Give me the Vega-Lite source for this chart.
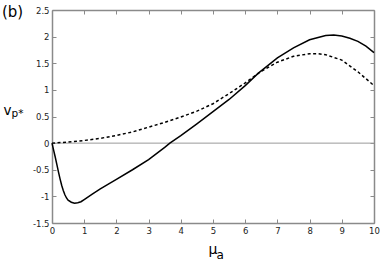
{
  "$schema": "https://vega.github.io/schema/vega-lite/v6.json",
  "width": 322,
  "height": 213,
  "autosize": "none",
  "padding": {"left": 52, "top": 10, "right": 7, "bottom": 39},
  "title": {"text": "(b)", "anchor": "start", "frame": "group", "orient": "none", "offset": 0, "baseline": "alphabetic", "dx": -50, "dy": 7, "font": "DejaVu Sans", "fontSize": 15, "fontWeight": "normal", "color": "#000"},
  "config": {
    "view": {"stroke": null},
    "axis": {
      "grid": false,
      "labelFont": "DejaVu Sans",
      "labelFontSize": 8.5,
      "labelColor": "#222",
      "labelFlush": false,
      "labelOverlap": false,
      "labelExpr": "'' + datum.value",
      "domainColor": "#8a8a8a",
      "domainWidth": 1.5,
      "tickColor": "#8a8a8a",
      "tickWidth": 1,
      "tickSize": -4,
      "titleFont": "DejaVu Sans",
      "titleFontWeight": "normal",
      "titleColor": "#000"
    }
  },
  "datasets": {
    "solid": [
      {"mu": 0, "v": 0}, {"mu": 0.05, "v": -0.13}, {"mu": 0.1, "v": -0.26}, {"mu": 0.15, "v": -0.4},
      {"mu": 0.2, "v": -0.54}, {"mu": 0.25, "v": -0.67}, {"mu": 0.3, "v": -0.79}, {"mu": 0.35, "v": -0.89},
      {"mu": 0.4, "v": -0.97}, {"mu": 0.45, "v": -1.03}, {"mu": 0.5, "v": -1.07}, {"mu": 0.6, "v": -1.11},
      {"mu": 0.7, "v": -1.13}, {"mu": 0.8, "v": -1.12}, {"mu": 0.9, "v": -1.1}, {"mu": 1.0, "v": -1.06},
      {"mu": 1.25, "v": -0.96}, {"mu": 1.5, "v": -0.86}, {"mu": 1.75, "v": -0.77}, {"mu": 2.0, "v": -0.68},
      {"mu": 2.5, "v": -0.5}, {"mu": 3.0, "v": -0.31}, {"mu": 3.5, "v": -0.08}, {"mu": 3.66, "v": 0},
      {"mu": 4.0, "v": 0.14}, {"mu": 4.5, "v": 0.36}, {"mu": 5.0, "v": 0.59}, {"mu": 5.5, "v": 0.82},
      {"mu": 6.0, "v": 1.08}, {"mu": 6.4, "v": 1.31}, {"mu": 7.0, "v": 1.6}, {"mu": 7.5, "v": 1.79},
      {"mu": 8.0, "v": 1.94}, {"mu": 8.5, "v": 2.02}, {"mu": 8.75, "v": 2.03}, {"mu": 9.0, "v": 2.01},
      {"mu": 9.25, "v": 1.97}, {"mu": 9.5, "v": 1.91}, {"mu": 9.75, "v": 1.82}, {"mu": 10, "v": 1.7}
    ],
    "dashed": [
      {"mu": 0, "v": 0}, {"mu": 0.5, "v": 0.02}, {"mu": 1.0, "v": 0.05}, {"mu": 1.5, "v": 0.09},
      {"mu": 2.0, "v": 0.145}, {"mu": 2.5, "v": 0.21}, {"mu": 3.0, "v": 0.3}, {"mu": 3.5, "v": 0.39},
      {"mu": 4.0, "v": 0.49}, {"mu": 4.5, "v": 0.6}, {"mu": 5.0, "v": 0.74}, {"mu": 5.5, "v": 0.93},
      {"mu": 6.0, "v": 1.13}, {"mu": 6.5, "v": 1.35}, {"mu": 7.0, "v": 1.52}, {"mu": 7.5, "v": 1.63},
      {"mu": 8.0, "v": 1.68}, {"mu": 8.25, "v": 1.68}, {"mu": 8.5, "v": 1.66}, {"mu": 9.0, "v": 1.56},
      {"mu": 9.5, "v": 1.34}, {"mu": 10, "v": 1.08}
    ],
    "zero": [{"v": 0}]
  },
  "resolve": {"axis": {"x": "independent", "y": "independent"}},
  "layer": [
    {
      "data": {"name": "zero"},
      "mark": {"type": "rule", "color": "#9a9a9a", "strokeWidth": 1},
      "encoding": {
        "y": {"field": "v", "type": "quantitative", "scale": {"domain": [-1.5, 2.5], "nice": false, "zero": false},
          "axis": {"orient": "left", "values": [-1.5, -1, -0.5, 0, 0.5, 1, 1.5, 2, 2.5], "labelPadding": 7,
            "title": "v", "titleAngle": 0, "titleAlign": "left", "titleBaseline": "alphabetic", "titleFontSize": 13.5, "titleX": -49, "titleY": 104}}
      }
    },
    {
      "data": {"name": "solid"},
      "mark": {"type": "line", "color": "#000", "strokeWidth": 1.5},
      "encoding": {
        "x": {"field": "mu", "type": "quantitative", "scale": {"domain": [0, 10], "nice": false},
          "axis": {"orient": "bottom", "values": [0, 1, 2, 3, 4, 5, 6, 7, 8, 9, 10], "labelPadding": 7,
            "title": "μ", "titleAlign": "left", "titleBaseline": "alphabetic", "titleFontSize": 14, "titleX": 156, "titleY": 30.5}},
        "y": {"field": "v", "type": "quantitative", "axis": null}
      }
    },
    {
      "data": {"name": "dashed"},
      "mark": {"type": "line", "color": "#000", "strokeWidth": 1.5, "strokeDash": [3, 2.5]},
      "encoding": {
        "x": {"field": "mu", "type": "quantitative",
          "axis": {"orient": "top", "values": [0, 1, 2, 3, 4, 5, 6, 7, 8, 9, 10], "labels": false,
            "title": "a", "titleAlign": "left", "titleBaseline": "alphabetic", "titleFontSize": 12, "titleX": 164, "titleY": 248}},
        "y": {"field": "v", "type": "quantitative",
          "axis": {"orient": "right", "values": [-1.5, -1, -0.5, 0, 0.5, 1, 1.5, 2, 2.5], "labels": false,
            "title": "p*", "titleAngle": 0, "titleAlign": "left", "titleBaseline": "alphabetic", "titleFontSize": 10.5, "titleX": -363, "titleY": 106.5}}
      }
    }
  ]
}
